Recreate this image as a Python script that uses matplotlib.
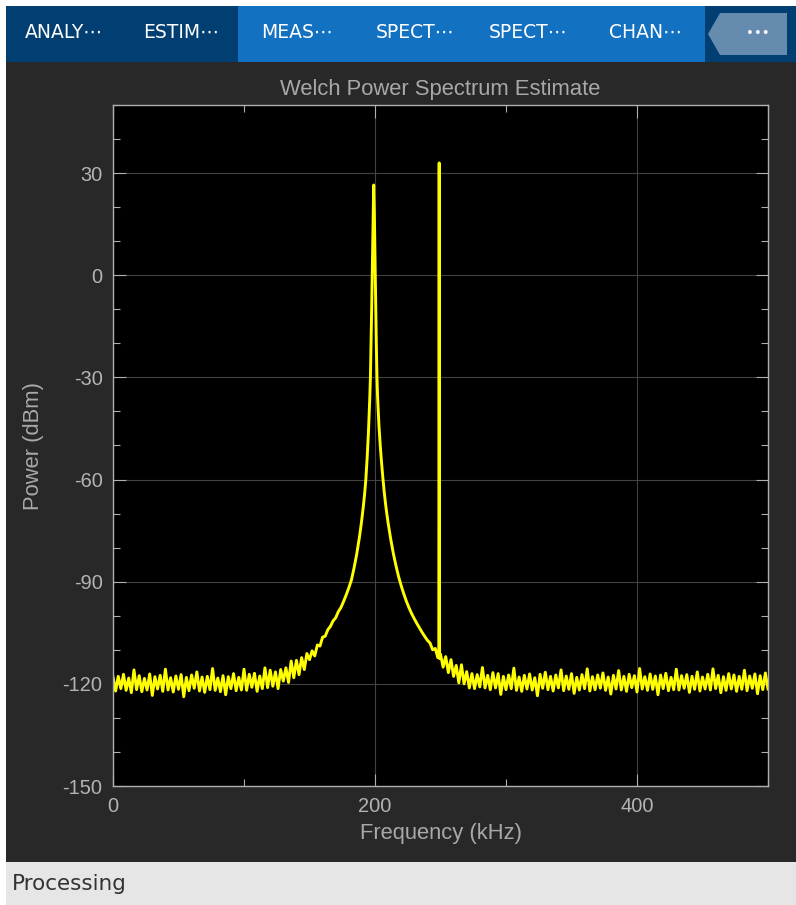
import numpy as np
import matplotlib
matplotlib.use("Agg")
import matplotlib.pyplot as plt
from matplotlib.patches import Rectangle, Polygon
from matplotlib.ticker import MultipleLocator

plt.rcParams['font.family'] = ['Liberation Sans', 'DejaVu Sans']
plt.rcParams['axes.unicode_minus'] = False

# ---- spectrum data (frequency in kHz, power in dBm) ----
# noise floor below the first tone, 2 kHz bins
low_freq = np.arange(0, 150, 2)
low_power = [
    -118.0, -122.1, -117.8, -121.4, -117.2, -121.9, -118.3, -122.6, -115.9, -121.7,
    -117.6, -122.3, -118.4, -121.8, -117.1, -123.4, -117.9, -121.5, -117.5, -122.2,
    -115.7, -121.8, -118.2, -122.4, -117.7, -121.6, -117.3, -123.8, -118.1, -122.0,
    -117.4, -121.3, -116.5, -122.1, -118.0, -122.5, -117.8, -121.7, -115.5, -121.9,
    -118.3, -122.3, -117.6, -123.2, -117.9, -121.4, -117.0, -122.0, -118.1, -121.8,
    -115.7, -121.9, -117.2, -121.0, -116.9, -122.2, -117.7, -121.4, -115.3, -121.1,
    -116.0, -120.7, -116.5, -121.4, -115.8, -119.2, -115.3, -119.6, -113.3, -118.2,
    -113.1, -117.3, -112.3, -115.8, -111.1,
]

# skirt of the 199 kHz tone plus the narrow 249 kHz tone
tone_freq = [
    150, 152, 154, 156, 158, 160, 162, 164, 166, 168, 170, 172, 174, 176, 178, 180,
    182, 184, 186, 188, 189, 190, 191, 192, 193, 194, 195, 196, 196.5, 197, 197.5,
    198, 198.5, 199,
    199.5, 200, 200.5, 201, 201.5, 202, 203, 204, 205, 206, 207, 208, 209, 210,
    212, 214, 216, 218, 220, 222, 224, 226, 228, 230, 232, 234, 236, 238, 240,
    242, 244, 246, 248, 248.7,
    249, 249.3, 250, 252, 254, 256, 258, 260, 262, 264, 266, 268, 270, 272,
]
tone_power = [
    -112.9, -110.3, -111.8, -108.6, -108.9, -106.3, -106.0, -104.1, -103.1, -101.5,
    -100.6, -98.8, -97.6, -95.8, -93.9, -91.8,
    -89.5, -86.0, -82.0, -77.2, -74.5, -71.5, -68.2, -64.5, -60.0, -53.7, -46.1,
    -36.2, -30.0, -20.0, -9.0,
    3.0, 16.0, 26.5,
    18.0, 5.0, -8.0, -20.0, -30.0, -36.0, -44.0, -50.0, -55.0, -59.5, -63.5, -67.0,
    -70.0, -72.7,
    -77.5, -81.7, -85.3, -88.5, -91.2, -93.6, -95.8, -97.7, -99.4, -100.9, -102.3,
    -103.6, -104.9, -106.1, -107.2,
    -108.0, -110.0, -109.6, -112.3, -111.6,
    33.0, -112.6, -111.3, -115.1, -112.0, -116.7, -112.9, -117.8, -114.6, -119.7,
    -114.4, -120.0, -116.4, -121.2,
]

# noise floor above the tones, 2 kHz bins
high_freq = np.arange(274, 501, 2)
high_power = [
    -117.0, -121.4, -117.3, -120.9, -115.2, -121.2, -117.5, -121.7, -116.7, -121.2,
    -117.0, -123.1, -117.8, -121.7, -117.4, -121.4, -115.4, -121.9, -118.0, -122.2,
    -117.5, -121.5, -117.1, -121.8, -118.2, -123.5, -117.2, -121.3, -116.6, -121.7,
    -117.8, -122.1, -117.4, -121.2, -115.9, -122.0, -117.7, -121.6, -117.0, -122.8,
    -118.1, -121.8, -117.3, -121.4, -115.6, -122.1, -117.9, -121.7, -117.4, -121.3,
    -116.8, -121.9, -118.0, -123.0, -117.5, -121.5, -116.1, -121.8, -117.8, -122.2,
    -117.2, -121.1, -117.6, -122.4, -115.5, -121.5, -117.9, -121.9, -117.1, -121.6,
    -117.7, -123.2, -117.4, -121.4, -116.9, -122.0, -118.1, -121.7, -115.7, -121.8,
    -117.6, -121.3, -117.3, -122.5, -117.8, -121.6, -116.5, -122.1, -118.0, -121.5,
    -117.2, -121.8, -115.6, -121.4, -117.5, -122.6, -117.9, -121.9, -117.0, -121.5,
    -117.4, -122.2, -117.8, -121.6, -116.0, -122.0, -117.7, -121.3, -117.1, -122.9,
    -117.6, -121.7, -116.8, -121.5,
]

freq_khz = np.concatenate([low_freq, tone_freq, high_freq])
power_dbm = np.concatenate([low_power, tone_power, high_power])

tab_labels = ["ANALY\u22ef", "ESTIM\u22ef", "MEAS\u22ef", "SPECT\u22ef", "SPECT\u22ef", "CHAN\u22ef"]

# ---- figure and window chrome ----
W, H, DPI = 796, 905, 100
fig = plt.figure(figsize=(W / DPI, H / DPI), dpi=DPI, facecolor='white')

chrome = fig.add_axes([0, 0, 1, 1], zorder=0)
chrome.set_xlim(0, W)
chrome.set_ylim(H, 0)
chrome.axis('off')

chrome.add_patch(Rectangle((6, 62), W - 6, 800, color='#282828', lw=0))
chrome.add_patch(Rectangle((6, 6), W - 6, 56, color='#013F73', lw=0))
chrome.add_patch(Rectangle((238, 6), 467, 56, color='#1371C2', lw=0))
chrome.add_patch(Polygon([(708, 34), (720, 13), (787, 13), (787, 55), (720, 55)],
                         closed=True, color='#658BAF', lw=0))
chrome.add_patch(Rectangle((6, 862), W - 6, H - 862, color='#E6E6E6', lw=0))

tab_x = [64, 181, 297, 415, 528, 645]
for x, lab in zip(tab_x, tab_labels):
    chrome.text(x, 33, lab, color='white', fontsize=13.5, ha='center', va='center',
                family=['DejaVu Sans'])
chrome.text(758, 33, "\u2022\u2022\u2022", color='white', fontsize=9.5, ha='center',
            va='center', family=['DejaVu Sans'])
chrome.text(12, 884, "Processing", color='#333333', fontsize=15.5, ha='left',
            va='center', family=['DejaVu Sans'])

# ---- spectrum axes ----
ax = fig.add_axes([113 / W, 1 - 786 / H, 655 / W, 681 / H], zorder=2)
ax.set_facecolor('black')
ax.plot(freq_khz, power_dbm, color='#FFFF00', lw=2.1)

ax.set_xlim(0, 500)
ax.set_ylim(-150, 50)
ax.xaxis.set_major_locator(MultipleLocator(200))
ax.xaxis.set_minor_locator(MultipleLocator(100))
ax.yaxis.set_major_locator(MultipleLocator(30))
ax.yaxis.set_minor_locator(MultipleLocator(10))

ax.set_axisbelow(True)
ax.grid(which='major', color='#424242', lw=0.8)

axis_col = '#AFAFAF'
text_col = '#B4B4B4'
ax.tick_params(which='both', direction='in', top=True, right=True,
               color=axis_col, labelcolor=text_col, labelsize=14.4, width=0.8)
ax.tick_params(which='major', length=9)
ax.tick_params(which='minor', length=4.8)
ax.tick_params(axis='x', pad=8)
ax.tick_params(axis='y', pad=7.5)
for s in ax.spines.values():
    s.set_color(axis_col)
    s.set_linewidth(1.0)

ax.set_xlabel("Frequency (kHz)", color='#A8A8A8', fontsize=15.8, labelpad=5)
ax.set_ylabel("Power (dBm)", color='#A8A8A8', fontsize=15.8)
ax.yaxis.label.set_va('center')
ax.yaxis.set_label_coords((33 - 113) / 655, 0.5)

chrome.text(440, 95, "Welch Power Spectrum Estimate", color='#A8A8A8', fontsize=15.8,
            ha='center', va='baseline')

fig.savefig('out.png', dpi=DPI, facecolor=fig.get_facecolor())
